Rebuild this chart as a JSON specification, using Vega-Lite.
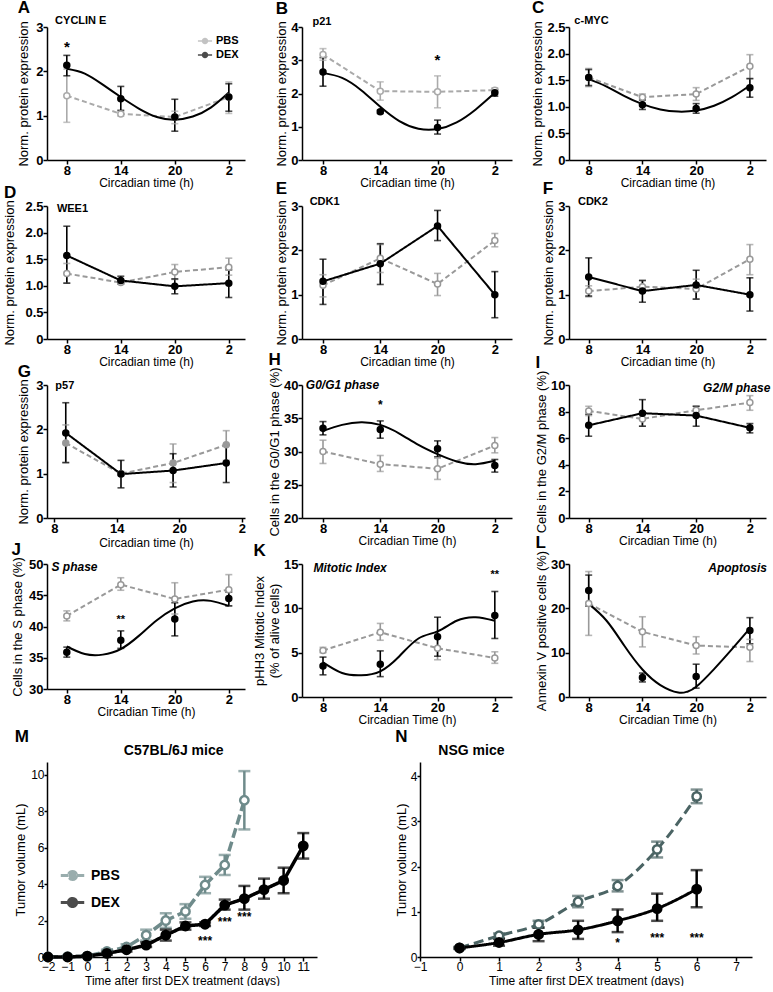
{
"$schema": "https://vega.github.io/schema/vega-lite/v6.json",
"padding": {"left": 3, "top": -2, "right": 2, "bottom": 0},
"spacing": 2,
"resolve": {"scale": {"color": "independent", "fill": "independent", "strokeDash": "independent"}},
"config": {
 "font": "Liberation Sans",
 "view": {"stroke": null},
 "axis": {"grid": false, "labelOverlap": false, "labelFlush": false, "domainColor": "#000", "domainWidth": 1.5, "tickColor": "#000", "tickWidth": 1.5, "tickSize": 4, "labelColor": "#000", "labelFontSize": 13, "labelFontWeight": "bold", "labelPadding": 0, "titleColor": "#000", "titleFontSize": 12, "titleFontWeight": "normal", "titlePadding": 0},
 "axisY": {"titleFontSize": 13, "titlePadding": 2},
 "title": {"fontSize": 17, "fontWeight": "bold", "anchor": "start", "frame": "bounds", "offset": -2, "color": "#000"}
},
"datasets": {
 "A": [
  {"g":"PBS","t":8,"y":1.45,"lo":0.85,"hi":2.05},{"g":"PBS","t":14,"y":1.04,"lo":0.99,"hi":1.09},{"g":"PBS","t":20,"y":0.97,"lo":0.82,"hi":1.1},{"g":"PBS","t":26,"y":1.42,"lo":1.05,"hi":1.76},
  {"g":"DEX","t":8,"y":2.14,"lo":1.9,"hi":2.36},{"g":"DEX","t":14,"y":1.38,"lo":1.12,"hi":1.66},{"g":"DEX","t":20,"y":0.97,"lo":0.65,"hi":1.37},{"g":"DEX","t":26,"y":1.42,"lo":1.1,"hi":1.72}],
 "Ac": [{"t":8,"y":2.06},{"t":10,"y":1.95},{"t":12,"y":1.7},{"t":14,"y":1.42},{"t":16,"y":1.16},{"t":18,"y":0.97},{"t":20,"y":0.91},{"t":22,"y":0.98},{"t":24,"y":1.18},{"t":26,"y":1.52}],
 "B": [
  {"g":"PBS","t":8,"y":3.17,"lo":3.0,"hi":3.35},{"g":"PBS","t":14,"y":2.07,"lo":1.8,"hi":2.35},{"g":"PBS","t":20,"y":2.05,"lo":1.57,"hi":2.53},{"g":"PBS","t":26,"y":2.1,"lo":2.03,"hi":2.17},
  {"g":"DEX","t":8,"y":2.65,"lo":2.22,"hi":3.08},{"g":"DEX","t":14,"y":1.45,"lo":1.4,"hi":1.5},{"g":"DEX","t":20,"y":0.98,"lo":0.78,"hi":1.2},{"g":"DEX","t":26,"y":2.02,"lo":1.92,"hi":2.12}],
 "Bc": [{"t":8,"y":2.62},{"t":10,"y":2.47},{"t":12,"y":2.1},{"t":14,"y":1.6},{"t":16,"y":1.17},{"t":18,"y":0.94},{"t":20,"y":0.93},{"t":22,"y":1.13},{"t":24,"y":1.52},{"t":26,"y":2.02}],
 "C": [
  {"g":"PBS","t":8,"y":1.55,"lo":1.38,"hi":1.72},{"g":"PBS","t":14,"y":1.18,"lo":1.13,"hi":1.24},{"g":"PBS","t":20,"y":1.24,"lo":1.12,"hi":1.36},{"g":"PBS","t":26,"y":1.76,"lo":1.53,"hi":1.98},
  {"g":"DEX","t":8,"y":1.55,"lo":1.4,"hi":1.7},{"g":"DEX","t":14,"y":1.04,"lo":0.95,"hi":1.13},{"g":"DEX","t":20,"y":0.97,"lo":0.88,"hi":1.06},{"g":"DEX","t":26,"y":1.36,"lo":1.18,"hi":1.53}],
 "Cc": [{"t":8,"y":1.52},{"t":10,"y":1.38},{"t":12,"y":1.2},{"t":14,"y":1.05},{"t":16,"y":0.95},{"t":18,"y":0.91},{"t":20,"y":0.93},{"t":22,"y":1.02},{"t":24,"y":1.18},{"t":26,"y":1.4}],
 "D": [
  {"g":"PBS","t":8,"y":1.23,"lo":1.05,"hi":1.42},{"g":"PBS","t":14,"y":1.06,"lo":1.03,"hi":1.1},{"g":"PBS","t":20,"y":1.26,"lo":1.12,"hi":1.4},{"g":"PBS","t":26,"y":1.35,"lo":1.2,"hi":1.52},
  {"g":"DEX","t":8,"y":1.57,"lo":1.05,"hi":2.12},{"g":"DEX","t":14,"y":1.1,"lo":1.04,"hi":1.18},{"g":"DEX","t":20,"y":0.99,"lo":0.85,"hi":1.13},{"g":"DEX","t":26,"y":1.05,"lo":0.78,"hi":1.3}],
 "E": [
  {"g":"PBS","t":8,"y":1.21,"lo":0.95,"hi":1.45},{"g":"PBS","t":14,"y":1.82,"lo":1.5,"hi":2.13},{"g":"PBS","t":20,"y":1.24,"lo":0.98,"hi":1.48},{"g":"PBS","t":26,"y":2.22,"lo":2.08,"hi":2.38},
  {"g":"DEX","t":8,"y":1.3,"lo":0.78,"hi":1.8},{"g":"DEX","t":14,"y":1.7,"lo":1.23,"hi":2.15},{"g":"DEX","t":20,"y":2.55,"lo":2.22,"hi":2.9},{"g":"DEX","t":26,"y":1.0,"lo":0.48,"hi":1.52}],
 "F": [
  {"g":"PBS","t":8,"y":1.08,"lo":0.95,"hi":1.2},{"g":"PBS","t":14,"y":1.18,"lo":1.05,"hi":1.32},{"g":"PBS","t":20,"y":1.13,"lo":0.9,"hi":1.35},{"g":"PBS","t":26,"y":1.8,"lo":1.45,"hi":2.13},
  {"g":"DEX","t":8,"y":1.4,"lo":0.97,"hi":1.83},{"g":"DEX","t":14,"y":1.08,"lo":0.83,"hi":1.32},{"g":"DEX","t":20,"y":1.22,"lo":0.9,"hi":1.55},{"g":"DEX","t":26,"y":1.0,"lo":0.63,"hi":1.38}],
 "G": [
  {"g":"PBS","t":9.1,"y":1.69,"lo":1.25,"hi":2.1},{"g":"PBS","t":14.4,"y":1.0,"lo":0.95,"hi":1.05},{"g":"PBS","t":19.4,"y":1.24,"lo":0.8,"hi":1.67},{"g":"PBS","t":24.5,"y":1.65,"lo":1.3,"hi":1.97},
  {"g":"DEX","t":9.1,"y":1.92,"lo":1.25,"hi":2.6},{"g":"DEX","t":14.4,"y":0.99,"lo":0.68,"hi":1.3},{"g":"DEX","t":19.4,"y":1.07,"lo":0.7,"hi":1.45},{"g":"DEX","t":24.5,"y":1.24,"lo":0.8,"hi":1.65}],
 "H": [
  {"g":"PBS","t":8,"y":30.0,"lo":28.2,"hi":31.7},{"g":"PBS","t":14,"y":28.1,"lo":27.0,"hi":29.4},{"g":"PBS","t":20,"y":27.4,"lo":25.8,"hi":29.0},{"g":"PBS","t":26,"y":30.9,"lo":29.8,"hi":32.1},
  {"g":"DEX","t":8,"y":33.5,"lo":32.5,"hi":34.5},{"g":"DEX","t":14,"y":33.3,"lo":32.0,"hi":34.6},{"g":"DEX","t":20,"y":30.4,"lo":29.2,"hi":31.6},{"g":"DEX","t":26,"y":27.9,"lo":26.9,"hi":28.8}],
 "Hc": [{"t":8,"y":33.1},{"t":10,"y":34.0},{"t":12,"y":34.4},{"t":14,"y":34.0},{"t":16,"y":32.7},{"t":18,"y":31.0},{"t":20,"y":29.6},{"t":22,"y":28.5},{"t":24,"y":28.1},{"t":26,"y":28.6}],
 "I": [
  {"g":"PBS","t":8,"y":8.05,"lo":7.7,"hi":8.4},{"g":"PBS","t":14,"y":7.45,"lo":6.9,"hi":7.9},{"g":"PBS","t":20,"y":8.1,"lo":7.8,"hi":8.4},{"g":"PBS","t":26,"y":8.68,"lo":8.1,"hi":9.2},
  {"g":"DEX","t":8,"y":6.97,"lo":6.15,"hi":7.8},{"g":"DEX","t":14,"y":7.88,"lo":6.9,"hi":8.9},{"g":"DEX","t":20,"y":7.7,"lo":6.9,"hi":8.4},{"g":"DEX","t":26,"y":6.78,"lo":6.4,"hi":7.1}],
 "J": [
  {"g":"PBS","t":8,"y":41.7,"lo":40.9,"hi":42.5},{"g":"PBS","t":14,"y":46.7,"lo":45.8,"hi":47.8},{"g":"PBS","t":20,"y":44.4,"lo":42.0,"hi":47.0},{"g":"PBS","t":26,"y":45.9,"lo":43.3,"hi":48.3},
  {"g":"DEX","t":8,"y":35.9,"lo":35.1,"hi":36.7},{"g":"DEX","t":14,"y":37.8,"lo":36.5,"hi":39.3},{"g":"DEX","t":20,"y":41.2,"lo":38.5,"hi":43.8},{"g":"DEX","t":26,"y":44.5,"lo":43.3,"hi":45.5}],
 "Jc": [{"t":8,"y":36.8},{"t":10,"y":35.6},{"t":12,"y":35.5},{"t":14,"y":36.4},{"t":16,"y":38.5},{"t":18,"y":41.0},{"t":20,"y":42.9},{"t":22,"y":44.0},{"t":24,"y":44.1},{"t":26,"y":43.3}],
 "K": [
  {"g":"PBS","t":8,"y":5.25,"lo":5.0,"hi":5.6},{"g":"PBS","t":14,"y":7.3,"lo":6.4,"hi":8.3},{"g":"PBS","t":20,"y":5.5,"lo":4.2,"hi":6.8},{"g":"PBS","t":26,"y":4.4,"lo":3.8,"hi":5.1},
  {"g":"DEX","t":8,"y":3.5,"lo":2.5,"hi":4.5},{"g":"DEX","t":14,"y":3.7,"lo":2.3,"hi":5.2},{"g":"DEX","t":20,"y":6.8,"lo":4.6,"hi":9.0},{"g":"DEX","t":26,"y":9.2,"lo":6.6,"hi":11.9}],
 "Kc": [{"t":8,"y":3.9},{"t":10,"y":2.7},{"t":12,"y":2.45},{"t":14,"y":2.9},{"t":16,"y":4.6},{"t":18,"y":6.6},{"t":20,"y":7.4},{"t":22,"y":8.6},{"t":24,"y":9.0},{"t":26,"y":8.6}],
 "L": [
  {"g":"PBS","t":8,"y":21.1,"lo":13.9,"hi":28.3},{"g":"PBS","t":14,"y":14.7,"lo":11.3,"hi":18.1},{"g":"PBS","t":20,"y":11.6,"lo":9.7,"hi":13.6},{"g":"PBS","t":26,"y":11.2,"lo":8.0,"hi":13.0},
  {"g":"DEX","t":8,"y":24.0,"lo":20.5,"hi":27.5},{"g":"DEX","t":14,"y":4.4,"lo":3.4,"hi":5.4},{"g":"DEX","t":20,"y":4.6,"lo":2.0,"hi":7.4},{"g":"DEX","t":26,"y":15.0,"lo":12.0,"hi":17.9}],
 "Lc": [{"t":8,"y":21.0},{"t":10,"y":17.2},{"t":12,"y":11.5},{"t":14,"y":6.2},{"t":16,"y":2.7},{"t":18,"y":1.0},{"t":19,"y":1.2},{"t":20,"y":2.3},{"t":22,"y":6.3},{"t":24,"y":10.8},{"t":26,"y":15.5}],
 "M": [
  {"g":"PBS","t":-2,"y":0.0,"lo":0.0,"hi":0.0},{"g":"PBS","t":-1,"y":0.02,"lo":0.0,"hi":0.05},{"g":"PBS","t":0,"y":0.05,"lo":0.02,"hi":0.08},{"g":"PBS","t":1,"y":0.3,"lo":0.2,"hi":0.4},{"g":"PBS","t":2,"y":0.55,"lo":0.4,"hi":0.7},{"g":"PBS","t":3,"y":1.2,"lo":0.9,"hi":1.5},{"g":"PBS","t":4,"y":2.0,"lo":1.6,"hi":2.4},{"g":"PBS","t":5,"y":2.5,"lo":2.1,"hi":2.9},{"g":"PBS","t":6,"y":3.95,"lo":3.5,"hi":4.4},{"g":"PBS","t":7,"y":5.05,"lo":4.5,"hi":5.6},{"g":"PBS","t":8,"y":8.6,"lo":7.0,"hi":10.2},
  {"g":"DEX","t":-2,"y":0.0,"lo":0.0,"hi":0.0},{"g":"DEX","t":-1,"y":0.0,"lo":0.0,"hi":0.03},{"g":"DEX","t":0,"y":0.05,"lo":0.02,"hi":0.08},{"g":"DEX","t":1,"y":0.2,"lo":0.12,"hi":0.28},{"g":"DEX","t":2,"y":0.4,"lo":0.3,"hi":0.5},{"g":"DEX","t":3,"y":0.65,"lo":0.55,"hi":0.8},{"g":"DEX","t":4,"y":1.2,"lo":0.9,"hi":1.5},{"g":"DEX","t":5,"y":1.7,"lo":1.5,"hi":1.9},{"g":"DEX","t":6,"y":1.8,"lo":1.7,"hi":1.9},{"g":"DEX","t":7,"y":2.85,"lo":2.6,"hi":3.15},{"g":"DEX","t":8,"y":3.2,"lo":2.6,"hi":3.9},{"g":"DEX","t":9,"y":3.7,"lo":3.2,"hi":4.3},{"g":"DEX","t":10,"y":4.2,"lo":3.5,"hi":4.9},{"g":"DEX","t":11,"y":6.1,"lo":5.4,"hi":6.8}],
 "N": [
  {"g":"PBS","t":0,"y":0.2,"lo":0.18,"hi":0.22},{"g":"PBS","t":1,"y":0.47,"lo":0.42,"hi":0.52},{"g":"PBS","t":2,"y":0.72,"lo":0.65,"hi":0.8},{"g":"PBS","t":3,"y":1.22,"lo":1.1,"hi":1.35},{"g":"PBS","t":4,"y":1.57,"lo":1.45,"hi":1.7},{"g":"PBS","t":5,"y":2.38,"lo":2.2,"hi":2.55},{"g":"PBS","t":6,"y":3.55,"lo":3.4,"hi":3.7},
  {"g":"DEX","t":0,"y":0.2,"lo":0.18,"hi":0.22},{"g":"DEX","t":1,"y":0.32,"lo":0.25,"hi":0.4},{"g":"DEX","t":2,"y":0.5,"lo":0.35,"hi":0.65},{"g":"DEX","t":3,"y":0.6,"lo":0.4,"hi":0.8},{"g":"DEX","t":4,"y":0.8,"lo":0.55,"hi":1.05},{"g":"DEX","t":5,"y":1.07,"lo":0.8,"hi":1.4},{"g":"DEX","t":6,"y":1.5,"lo":1.1,"hi":1.92}]
},
"vconcat": [
{
"columns": 3,
"bounds": "flush",
"spacing": {"row": 46, "column": 57},
"resolve": {"scale": {"color": "independent", "fill": "independent", "strokeDash": "independent"}},
"concat": [
{
 "title": {"text": "A"}, "width": 198, "height": 133,
 "encoding": {"x": {"field":"t","type":"quantitative","scale":{"domain":[5.8,27.8],"nice":false,"zero":false},"axis":{"values":[8,14,20,26],"labelExpr":"datum.value==26?'2':datum.label","title":"Circadian time (h)"}}},
 "layer": [
  {"data":{"name":"A"},"mark":{"type":"rule","strokeWidth":1.6},"encoding":{"y":{"field":"lo","type":"quantitative","scale":{"domain":[0,3],"nice":false},"axis":{"values":[0,1,2,3],"labelOverlap":false,"titlePadding":5,"title":"Norm. protein expression"}},"y2":{"field":"hi"},"color":{"field":"g","type":"nominal","scale":{"domain":["PBS","DEX"],"range":["#aaaaaa","#000000"]}}}},
  {"data":{"name":"A"},"mark":{"type":"tick","orient":"horizontal","size":7,"thickness":1.6},"encoding":{"y":{"field":"lo","type":"quantitative","scale":{"domain":[0,3],"nice":false},"axis":{"values":[0,1,2,3],"labelOverlap":false,"titlePadding":5,"title":"Norm. protein expression"}},"color":{"field":"g","type":"nominal"}}},
  {"data":{"name":"A"},"mark":{"type":"tick","orient":"horizontal","size":7,"thickness":1.6},"encoding":{"y":{"field":"hi","type":"quantitative","scale":{"domain":[0,3],"nice":false},"axis":{"values":[0,1,2,3],"labelOverlap":false,"titlePadding":5,"title":"Norm. protein expression"}},"color":{"field":"g","type":"nominal"}}},
  {"data":{"name":"A"},"transform":[{"filter":"datum.g=='PBS'"}],"mark":{"type":"line","strokeWidth":2,"strokeDash":[5,3]},"encoding":{"y":{"field":"y","type":"quantitative","scale":{"domain":[0,3],"nice":false},"axis":{"values":[0,1,2,3],"labelOverlap":false,"titlePadding":5,"title":"Norm. protein expression"}},"color":{"field":"g","type":"nominal"}}},
  {"data":{"name":"Ac"},"mark":{"type":"line","interpolate":"natural","strokeWidth":2,"color":"#000"},"encoding":{"y":{"field":"y","type":"quantitative","scale":{"domain":[0,3],"nice":false},"axis":{"values":[0,1,2,3],"labelOverlap":false,"titlePadding":5,"title":"Norm. protein expression"}}}},
  {"data":{"name":"A"},"mark":{"type":"point","filled":false,"size":36,"strokeWidth":1.5,"opacity":1},"encoding":{"y":{"field":"y","type":"quantitative","scale":{"domain":[0,3],"nice":false},"axis":{"values":[0,1,2,3],"labelOverlap":false,"titlePadding":5,"title":"Norm. protein expression"}},
    "color":{"field":"g","type":"nominal","legend":{"orient":"top-right","title":null,"offset":6,"labelFontSize":11,"labelFontWeight":"bold","labelColor":"#000","symbolType":"M-1,0H-0.35M0.35,0H1M0.35,0A0.35,0.35,0,1,1,-0.35,0A0.35,0.35,0,1,1,0.35,0","symbolSize":200,"symbolStrokeWidth":1.5,"rowPadding":0,"labelOffset":3}},
    "fill":{"field":"g","type":"nominal","scale":{"domain":["PBS","DEX"],"range":["#ffffff","#000000"]},"legend":{"orient":"top-right","title":null,"offset":6,"labelFontSize":11,"labelFontWeight":"bold","labelColor":"#000","symbolType":"M-1,0H-0.35M0.35,0H1M0.35,0A0.35,0.35,0,1,1,-0.35,0A0.35,0.35,0,1,1,0.35,0","symbolSize":200,"symbolStrokeWidth":1.5,"rowPadding":0,"labelOffset":3}}}},
  {"data":{"name":"A"},"transform":[{"filter":"datum.g=='DEX' && datum.t==8"}],"mark":{"type":"text","text":"CYCLIN E","fontWeight":"bold","fontSize":11,"align":"left","baseline":"middle","color":"#000"},"encoding":{"x":{"datum":6.7},"y":{"datum":3.13,"type":"quantitative","scale":{"domain":[0,3],"nice":false},"axis":{"values":[0,1,2,3],"labelOverlap":false,"titlePadding":5,"title":"Norm. protein expression"}}}},
  {"data":{"name":"A"},"transform":[{"filter":"datum.g=='DEX' && datum.t==8"}],"mark":{"type":"text","text":"*","fontWeight":"bold","fontSize":15,"align":"center","baseline":"middle","color":"#000"},"encoding":{"x":{"datum":8},"y":{"datum":2.55,"type":"quantitative","scale":{"domain":[0,3],"nice":false},"axis":{"values":[0,1,2,3],"labelOverlap":false,"titlePadding":5,"title":"Norm. protein expression"}}}}
 ]
},
{
 "title": {"text": "B"}, "width": 210, "height": 133,
 "encoding": {"x": {"field":"t","type":"quantitative","scale":{"domain":[5.8,27.8],"nice":false,"zero":false},"axis":{"values":[8,14,20,26],"labelExpr":"datum.value==26?'2':datum.label","title":"Circadian time (h)"}}},
 "layer": [
  {"data":{"name":"B"},"mark":{"type":"rule","strokeWidth":1.6},"encoding":{"y":{"field":"lo","type":"quantitative","scale":{"domain":[0,4],"nice":false},"axis":{"values":[0,1,2,3,4],"labelOverlap":false,"title":"Norm. protein expression"}},"y2":{"field":"hi"},"color":{"field":"g","type":"nominal","scale":{"domain":["PBS","DEX"],"range":["#aaaaaa","#000000"]},"legend":null}}},
  {"data":{"name":"B"},"mark":{"type":"tick","orient":"horizontal","size":7,"thickness":1.6},"encoding":{"y":{"field":"lo","type":"quantitative","scale":{"domain":[0,4],"nice":false},"axis":{"values":[0,1,2,3,4],"labelOverlap":false,"title":"Norm. protein expression"}},"color":{"field":"g","type":"nominal","legend":null}}},
  {"data":{"name":"B"},"mark":{"type":"tick","orient":"horizontal","size":7,"thickness":1.6},"encoding":{"y":{"field":"hi","type":"quantitative","scale":{"domain":[0,4],"nice":false},"axis":{"values":[0,1,2,3,4],"labelOverlap":false,"title":"Norm. protein expression"}},"color":{"field":"g","type":"nominal","legend":null}}},
  {"data":{"name":"B"},"transform":[{"filter":"datum.g=='PBS'"}],"mark":{"type":"line","strokeWidth":2,"strokeDash":[5,3]},"encoding":{"y":{"field":"y","type":"quantitative","scale":{"domain":[0,4],"nice":false},"axis":{"values":[0,1,2,3,4],"labelOverlap":false,"title":"Norm. protein expression"}},"color":{"field":"g","type":"nominal","legend":null}}},
  {"data":{"name":"Bc"},"mark":{"type":"line","interpolate":"natural","strokeWidth":2,"color":"#000"},"encoding":{"y":{"field":"y","type":"quantitative","scale":{"domain":[0,4],"nice":false},"axis":{"values":[0,1,2,3,4],"labelOverlap":false,"title":"Norm. protein expression"}}}},
  {"data":{"name":"B"},"mark":{"type":"point","filled":false,"size":36,"strokeWidth":1.5,"opacity":1},"encoding":{"y":{"field":"y","type":"quantitative","scale":{"domain":[0,4],"nice":false},"axis":{"values":[0,1,2,3,4],"labelOverlap":false,"title":"Norm. protein expression"}},"color":{"field":"g","type":"nominal","legend":null},"fill":{"field":"g","type":"nominal","scale":{"domain":["PBS","DEX"],"range":["#ffffff","#000000"]},"legend":null}}},
  {"data":{"name":"B"},"transform":[{"filter":"datum.g=='DEX' && datum.t==8"}],"mark":{"type":"text","text":"p21","fontWeight":"bold","fontSize":11,"align":"left","baseline":"middle","color":"#000"},"encoding":{"x":{"datum":6.9},"y":{"datum":4.15,"type":"quantitative","scale":{"domain":[0,4],"nice":false},"axis":{"values":[0,1,2,3,4],"labelOverlap":false,"title":"Norm. protein expression"}}}},
  {"data":{"name":"B"},"transform":[{"filter":"datum.g=='DEX' && datum.t==8"}],"mark":{"type":"text","text":"*","fontWeight":"bold","fontSize":15,"align":"center","baseline":"middle","color":"#000"},"encoding":{"x":{"datum":20},"y":{"datum":3.0,"type":"quantitative","scale":{"domain":[0,4],"nice":false},"axis":{"values":[0,1,2,3,4],"labelOverlap":false,"title":"Norm. protein expression"}}}}
 ]
},
{
 "title": {"text": "C"}, "width": 197, "height": 133,
 "encoding": {"x": {"field":"t","type":"quantitative","scale":{"domain":[5.8,27.8],"nice":false,"zero":false},"axis":{"values":[8,14,20,26],"labelExpr":"datum.value==26?'2':datum.label","title":"Circadian time (h)"}}},
 "layer": [
  {"data":{"name":"C"},"mark":{"type":"rule","strokeWidth":1.6},"encoding":{"y":{"field":"lo","type":"quantitative","scale":{"domain":[0,2.5],"nice":false},"axis":{"values":[0,0.5,1,1.5,2,2.5],"labelOverlap":false,"labelExpr":"datum.value==0?'0':format(datum.value,'.1f')","title":"Norm. protein expression"}},"y2":{"field":"hi"},"color":{"field":"g","type":"nominal","scale":{"domain":["PBS","DEX"],"range":["#999999","#000000"]},"legend":null}}},
  {"data":{"name":"C"},"mark":{"type":"tick","orient":"horizontal","size":7,"thickness":1.6},"encoding":{"y":{"field":"lo","type":"quantitative","scale":{"domain":[0,2.5],"nice":false},"axis":{"values":[0,0.5,1,1.5,2,2.5],"labelOverlap":false,"labelExpr":"datum.value==0?'0':format(datum.value,'.1f')","title":"Norm. protein expression"}},"color":{"field":"g","type":"nominal","legend":null}}},
  {"data":{"name":"C"},"mark":{"type":"tick","orient":"horizontal","size":7,"thickness":1.6},"encoding":{"y":{"field":"hi","type":"quantitative","scale":{"domain":[0,2.5],"nice":false},"axis":{"values":[0,0.5,1,1.5,2,2.5],"labelOverlap":false,"labelExpr":"datum.value==0?'0':format(datum.value,'.1f')","title":"Norm. protein expression"}},"color":{"field":"g","type":"nominal","legend":null}}},
  {"data":{"name":"C"},"transform":[{"filter":"datum.g=='PBS'"}],"mark":{"type":"line","strokeWidth":2,"strokeDash":[5,3]},"encoding":{"y":{"field":"y","type":"quantitative","scale":{"domain":[0,2.5],"nice":false},"axis":{"values":[0,0.5,1,1.5,2,2.5],"labelOverlap":false,"labelExpr":"datum.value==0?'0':format(datum.value,'.1f')","title":"Norm. protein expression"}},"color":{"field":"g","type":"nominal","legend":null}}},
  {"data":{"name":"Cc"},"mark":{"type":"line","interpolate":"natural","strokeWidth":2,"color":"#000"},"encoding":{"y":{"field":"y","type":"quantitative","scale":{"domain":[0,2.5],"nice":false},"axis":{"values":[0,0.5,1,1.5,2,2.5],"labelOverlap":false,"labelExpr":"datum.value==0?'0':format(datum.value,'.1f')","title":"Norm. protein expression"}}}},
  {"data":{"name":"C"},"mark":{"type":"point","filled":false,"size":36,"strokeWidth":1.5,"opacity":1},"encoding":{"y":{"field":"y","type":"quantitative","scale":{"domain":[0,2.5],"nice":false},"axis":{"values":[0,0.5,1,1.5,2,2.5],"labelOverlap":false,"labelExpr":"datum.value==0?'0':format(datum.value,'.1f')","title":"Norm. protein expression"}},"color":{"field":"g","type":"nominal","legend":null},"fill":{"field":"g","type":"nominal","scale":{"domain":["PBS","DEX"],"range":["#ffffff","#000000"]},"legend":null}}},
  {"data":{"name":"C"},"transform":[{"filter":"datum.g=='DEX' && datum.t==8"}],"mark":{"type":"text","text":"c-MYC","fontWeight":"bold","fontSize":11,"align":"left","baseline":"middle","color":"#000"},"encoding":{"x":{"datum":6.4},"y":{"datum":2.62,"type":"quantitative","scale":{"domain":[0,2.5],"nice":false},"axis":{"values":[0,0.5,1,1.5,2,2.5],"labelOverlap":false,"labelExpr":"datum.value==0?'0':format(datum.value,'.1f')","title":"Norm. protein expression"}}}}
 ]
},
{
 "title": {"text": "D"}, "width": 198, "height": 133,
 "encoding": {"x": {"field":"t","type":"quantitative","scale":{"domain":[5.8,27.8],"nice":false,"zero":false},"axis":{"values":[8,14,20,26],"labelExpr":"datum.value==26?'2':datum.label","title":"Circadian time (h)"}}},
 "layer": [
  {"data":{"name":"D"},"mark":{"type":"rule","strokeWidth":1.6},"encoding":{"y":{"field":"lo","type":"quantitative","scale":{"domain":[0,2.5],"nice":false},"axis":{"values":[0,0.5,1,1.5,2,2.5],"labelOverlap":false,"titlePadding":8,"labelExpr":"datum.value==0?'0':format(datum.value,'.1f')","title":"Norm. protein expression"}},"y2":{"field":"hi"},"color":{"field":"g","type":"nominal","scale":{"domain":["PBS","DEX"],"range":["#999999","#000000"]},"legend":null}}},
  {"data":{"name":"D"},"mark":{"type":"tick","orient":"horizontal","size":7,"thickness":1.6},"encoding":{"y":{"field":"lo","type":"quantitative","scale":{"domain":[0,2.5],"nice":false},"axis":{"values":[0,0.5,1,1.5,2,2.5],"labelOverlap":false,"titlePadding":8,"labelExpr":"datum.value==0?'0':format(datum.value,'.1f')","title":"Norm. protein expression"}},"color":{"field":"g","type":"nominal","legend":null}}},
  {"data":{"name":"D"},"mark":{"type":"tick","orient":"horizontal","size":7,"thickness":1.6},"encoding":{"y":{"field":"hi","type":"quantitative","scale":{"domain":[0,2.5],"nice":false},"axis":{"values":[0,0.5,1,1.5,2,2.5],"labelOverlap":false,"titlePadding":8,"labelExpr":"datum.value==0?'0':format(datum.value,'.1f')","title":"Norm. protein expression"}},"color":{"field":"g","type":"nominal","legend":null}}},
  {"data":{"name":"D"},"mark":{"type":"line","strokeWidth":2},"encoding":{"y":{"field":"y","type":"quantitative","scale":{"domain":[0,2.5],"nice":false},"axis":{"values":[0,0.5,1,1.5,2,2.5],"labelOverlap":false,"titlePadding":8,"labelExpr":"datum.value==0?'0':format(datum.value,'.1f')","title":"Norm. protein expression"}},"color":{"field":"g","type":"nominal","legend":null},"strokeDash":{"field":"g","type":"nominal","scale":{"domain":["PBS","DEX"],"range":[[5,3],[1,0]]},"legend":null}}},
  {"data":{"name":"D"},"mark":{"type":"point","filled":false,"size":36,"strokeWidth":1.5,"opacity":1},"encoding":{"y":{"field":"y","type":"quantitative","scale":{"domain":[0,2.5],"nice":false},"axis":{"values":[0,0.5,1,1.5,2,2.5],"labelOverlap":false,"titlePadding":8,"labelExpr":"datum.value==0?'0':format(datum.value,'.1f')","title":"Norm. protein expression"}},"color":{"field":"g","type":"nominal","legend":null},"fill":{"field":"g","type":"nominal","scale":{"domain":["PBS","DEX"],"range":["#ffffff","#000000"]},"legend":null}}},
  {"data":{"name":"D"},"transform":[{"filter":"datum.g=='DEX' && datum.t==8"}],"mark":{"type":"text","text":"WEE1","fontWeight":"bold","fontSize":11,"align":"left","baseline":"middle","color":"#000"},"encoding":{"x":{"datum":6.9},"y":{"datum":2.44,"type":"quantitative","scale":{"domain":[0,2.5],"nice":false},"axis":{"values":[0,0.5,1,1.5,2,2.5],"labelOverlap":false,"titlePadding":8,"labelExpr":"datum.value==0?'0':format(datum.value,'.1f')","title":"Norm. protein expression"}}}}
 ]
},
{
 "title": {"text": "E"}, "width": 210, "height": 133,
 "encoding": {"x": {"field":"t","type":"quantitative","scale":{"domain":[5.8,27.8],"nice":false,"zero":false},"axis":{"values":[8,14,20,26],"labelExpr":"datum.value==26?'2':datum.label","title":"Circadian time (h)"}}},
 "layer": [
  {"data":{"name":"E"},"mark":{"type":"rule","strokeWidth":1.6},"encoding":{"y":{"field":"lo","type":"quantitative","scale":{"domain":[0,3],"nice":false},"axis":{"values":[0,1,2,3],"labelOverlap":false,"title":"Norm. protein expression"}},"y2":{"field":"hi"},"color":{"field":"g","type":"nominal","scale":{"domain":["PBS","DEX"],"range":["#999999","#000000"]},"legend":null}}},
  {"data":{"name":"E"},"mark":{"type":"tick","orient":"horizontal","size":7,"thickness":1.6},"encoding":{"y":{"field":"lo","type":"quantitative","scale":{"domain":[0,3],"nice":false},"axis":{"values":[0,1,2,3],"labelOverlap":false,"title":"Norm. protein expression"}},"color":{"field":"g","type":"nominal","legend":null}}},
  {"data":{"name":"E"},"mark":{"type":"tick","orient":"horizontal","size":7,"thickness":1.6},"encoding":{"y":{"field":"hi","type":"quantitative","scale":{"domain":[0,3],"nice":false},"axis":{"values":[0,1,2,3],"labelOverlap":false,"title":"Norm. protein expression"}},"color":{"field":"g","type":"nominal","legend":null}}},
  {"data":{"name":"E"},"mark":{"type":"line","strokeWidth":2},"encoding":{"y":{"field":"y","type":"quantitative","scale":{"domain":[0,3],"nice":false},"axis":{"values":[0,1,2,3],"labelOverlap":false,"title":"Norm. protein expression"}},"color":{"field":"g","type":"nominal","legend":null},"strokeDash":{"field":"g","type":"nominal","scale":{"domain":["PBS","DEX"],"range":[[5,3],[1,0]]},"legend":null}}},
  {"data":{"name":"E"},"mark":{"type":"point","filled":false,"size":36,"strokeWidth":1.5,"opacity":1},"encoding":{"y":{"field":"y","type":"quantitative","scale":{"domain":[0,3],"nice":false},"axis":{"values":[0,1,2,3],"labelOverlap":false,"title":"Norm. protein expression"}},"color":{"field":"g","type":"nominal","legend":null},"fill":{"field":"g","type":"nominal","scale":{"domain":["PBS","DEX"],"range":["#ffffff","#000000"]},"legend":null}}},
  {"data":{"name":"E"},"transform":[{"filter":"datum.g=='DEX' && datum.t==8"}],"mark":{"type":"text","text":"CDK1","fontWeight":"bold","fontSize":11,"align":"left","baseline":"middle","color":"#000"},"encoding":{"x":{"datum":6.6},"y":{"datum":3.1,"type":"quantitative","scale":{"domain":[0,3],"nice":false},"axis":{"values":[0,1,2,3],"labelOverlap":false,"title":"Norm. protein expression"}}}}
 ]
},
{
 "title": {"text": "F"}, "width": 197, "height": 133,
 "encoding": {"x": {"field":"t","type":"quantitative","scale":{"domain":[5.8,27.8],"nice":false,"zero":false},"axis":{"values":[8,14,20,26],"labelExpr":"datum.value==26?'2':datum.label","title":"Circadian time (h)"}}},
 "layer": [
  {"data":{"name":"F"},"mark":{"type":"rule","strokeWidth":1.6},"encoding":{"y":{"field":"lo","type":"quantitative","scale":{"domain":[0,3],"nice":false},"axis":{"values":[0,1,2,3],"labelOverlap":false,"title":"Norm. protein expression"}},"y2":{"field":"hi"},"color":{"field":"g","type":"nominal","scale":{"domain":["PBS","DEX"],"range":["#999999","#000000"]},"legend":null}}},
  {"data":{"name":"F"},"mark":{"type":"tick","orient":"horizontal","size":7,"thickness":1.6},"encoding":{"y":{"field":"lo","type":"quantitative","scale":{"domain":[0,3],"nice":false},"axis":{"values":[0,1,2,3],"labelOverlap":false,"title":"Norm. protein expression"}},"color":{"field":"g","type":"nominal","legend":null}}},
  {"data":{"name":"F"},"mark":{"type":"tick","orient":"horizontal","size":7,"thickness":1.6},"encoding":{"y":{"field":"hi","type":"quantitative","scale":{"domain":[0,3],"nice":false},"axis":{"values":[0,1,2,3],"labelOverlap":false,"title":"Norm. protein expression"}},"color":{"field":"g","type":"nominal","legend":null}}},
  {"data":{"name":"F"},"mark":{"type":"line","strokeWidth":2},"encoding":{"y":{"field":"y","type":"quantitative","scale":{"domain":[0,3],"nice":false},"axis":{"values":[0,1,2,3],"labelOverlap":false,"title":"Norm. protein expression"}},"color":{"field":"g","type":"nominal","legend":null},"strokeDash":{"field":"g","type":"nominal","scale":{"domain":["PBS","DEX"],"range":[[5,3],[1,0]]},"legend":null}}},
  {"data":{"name":"F"},"mark":{"type":"point","filled":false,"size":36,"strokeWidth":1.5,"opacity":1},"encoding":{"y":{"field":"y","type":"quantitative","scale":{"domain":[0,3],"nice":false},"axis":{"values":[0,1,2,3],"labelOverlap":false,"title":"Norm. protein expression"}},"color":{"field":"g","type":"nominal","legend":null},"fill":{"field":"g","type":"nominal","scale":{"domain":["PBS","DEX"],"range":["#ffffff","#000000"]},"legend":null}}},
  {"data":{"name":"F"},"transform":[{"filter":"datum.g=='DEX' && datum.t==8"}],"mark":{"type":"text","text":"CDK2","fontWeight":"bold","fontSize":11,"align":"left","baseline":"middle","color":"#000"},"encoding":{"x":{"datum":6.8},"y":{"datum":3.1,"type":"quantitative","scale":{"domain":[0,3],"nice":false},"axis":{"values":[0,1,2,3],"labelOverlap":false,"title":"Norm. protein expression"}}}}
 ]
},
{
 "title": {"text": "G"}, "width": 198, "height": 133,
 "encoding": {"x": {"field":"t","type":"quantitative","scale":{"domain":[7.3,26.3],"nice":false,"zero":false},"axis":{"values":[8,14,20,26],"labelExpr":"datum.value==26?'2':datum.label","titlePadding":2,"title":"Circadian time (h)"}}},
 "layer": [
  {"data":{"name":"G"},"mark":{"type":"rule","strokeWidth":1.6},"encoding":{"y":{"field":"lo","type":"quantitative","scale":{"domain":[0,3],"nice":false},"axis":{"values":[0,1,2,3],"labelOverlap":false,"titlePadding":5,"title":"Norm. protein expression"}},"y2":{"field":"hi"},"color":{"field":"g","type":"nominal","scale":{"domain":["PBS","DEX"],"range":["#999999","#000000"]},"legend":null}}},
  {"data":{"name":"G"},"mark":{"type":"tick","orient":"horizontal","size":7,"thickness":1.6},"encoding":{"y":{"field":"lo","type":"quantitative","scale":{"domain":[0,3],"nice":false},"axis":{"values":[0,1,2,3],"labelOverlap":false,"titlePadding":5,"title":"Norm. protein expression"}},"color":{"field":"g","type":"nominal","legend":null}}},
  {"data":{"name":"G"},"mark":{"type":"tick","orient":"horizontal","size":7,"thickness":1.6},"encoding":{"y":{"field":"hi","type":"quantitative","scale":{"domain":[0,3],"nice":false},"axis":{"values":[0,1,2,3],"labelOverlap":false,"titlePadding":5,"title":"Norm. protein expression"}},"color":{"field":"g","type":"nominal","legend":null}}},
  {"data":{"name":"G"},"mark":{"type":"line","strokeWidth":2},"encoding":{"y":{"field":"y","type":"quantitative","scale":{"domain":[0,3],"nice":false},"axis":{"values":[0,1,2,3],"labelOverlap":false,"titlePadding":5,"title":"Norm. protein expression"}},"color":{"field":"g","type":"nominal","legend":null},"strokeDash":{"field":"g","type":"nominal","scale":{"domain":["PBS","DEX"],"range":[[5,3],[1,0]]},"legend":null}}},
  {"data":{"name":"G"},"mark":{"type":"point","filled":false,"size":36,"strokeWidth":1.5,"opacity":1},"encoding":{"y":{"field":"y","type":"quantitative","scale":{"domain":[0,3],"nice":false},"axis":{"values":[0,1,2,3],"labelOverlap":false,"titlePadding":5,"title":"Norm. protein expression"}},"color":{"field":"g","type":"nominal","legend":null},"fill":{"field":"g","type":"nominal","scale":{"domain":["PBS","DEX"],"range":["#999999","#000000"]},"legend":null}}},
  {"data":{"name":"G"},"transform":[{"filter":"datum.g=='DEX' && datum.t==9.1"}],"mark":{"type":"text","text":"p57","fontWeight":"bold","fontSize":11,"align":"left","baseline":"middle","color":"#000"},"encoding":{"x":{"datum":8.1},"y":{"datum":2.98,"type":"quantitative","scale":{"domain":[0,3],"nice":false},"axis":{"values":[0,1,2,3],"labelOverlap":false,"titlePadding":5,"title":"Norm. protein expression"}}}}
 ]
},
{
 "title": {"text": "H"}, "width": 210, "height": 133,
 "encoding": {"x": {"field":"t","type":"quantitative","scale":{"domain":[5.8,27.8],"nice":false,"zero":false},"axis":{"values":[8,14,20,26],"labelExpr":"datum.value==26?'2':datum.label","title":"Circadian Time (h)"}}},
 "layer": [
  {"data":{"name":"H"},"mark":{"type":"rule","strokeWidth":1.6},"encoding":{"y":{"field":"lo","type":"quantitative","scale":{"domain":[20,40],"nice":false,"zero":false},"axis":{"values":[20,25,30,35,40],"labelOverlap":false,"title":"Cells in the G0/G1 phase (%)"}},"y2":{"field":"hi"},"color":{"field":"g","type":"nominal","scale":{"domain":["PBS","DEX"],"range":["#999999","#000000"]},"legend":null}}},
  {"data":{"name":"H"},"mark":{"type":"tick","orient":"horizontal","size":7,"thickness":1.6},"encoding":{"y":{"field":"lo","type":"quantitative","scale":{"domain":[20,40],"nice":false,"zero":false},"axis":{"values":[20,25,30,35,40],"labelOverlap":false,"title":"Cells in the G0/G1 phase (%)"}},"color":{"field":"g","type":"nominal","legend":null}}},
  {"data":{"name":"H"},"mark":{"type":"tick","orient":"horizontal","size":7,"thickness":1.6},"encoding":{"y":{"field":"hi","type":"quantitative","scale":{"domain":[20,40],"nice":false,"zero":false},"axis":{"values":[20,25,30,35,40],"labelOverlap":false,"title":"Cells in the G0/G1 phase (%)"}},"color":{"field":"g","type":"nominal","legend":null}}},
  {"data":{"name":"H"},"transform":[{"filter":"datum.g=='PBS'"}],"mark":{"type":"line","strokeWidth":2,"strokeDash":[5,3]},"encoding":{"y":{"field":"y","type":"quantitative","scale":{"domain":[20,40],"nice":false,"zero":false},"axis":{"values":[20,25,30,35,40],"labelOverlap":false,"title":"Cells in the G0/G1 phase (%)"}},"color":{"field":"g","type":"nominal","legend":null}}},
  {"data":{"name":"Hc"},"mark":{"type":"line","interpolate":"natural","strokeWidth":2,"color":"#000"},"encoding":{"y":{"field":"y","type":"quantitative","scale":{"domain":[20,40],"nice":false,"zero":false},"axis":{"values":[20,25,30,35,40],"labelOverlap":false,"title":"Cells in the G0/G1 phase (%)"}}}},
  {"data":{"name":"H"},"mark":{"type":"point","filled":false,"size":36,"strokeWidth":1.5,"opacity":1},"encoding":{"y":{"field":"y","type":"quantitative","scale":{"domain":[20,40],"nice":false,"zero":false},"axis":{"values":[20,25,30,35,40],"labelOverlap":false,"title":"Cells in the G0/G1 phase (%)"}},"color":{"field":"g","type":"nominal","legend":null},"fill":{"field":"g","type":"nominal","scale":{"domain":["PBS","DEX"],"range":["#ffffff","#000000"]},"legend":null}}},
  {"data":{"name":"H"},"transform":[{"filter":"datum.g=='DEX' && datum.t==8"}],"mark":{"type":"text","text":"G0/G1 phase","fontWeight":"bold","fontStyle":"italic","fontSize":12,"align":"left","baseline":"middle","color":"#000"},"encoding":{"x":{"datum":6.2},"y":{"datum":40.0,"type":"quantitative","scale":{"domain":[20,40],"nice":false,"zero":false},"axis":{"values":[20,25,30,35,40],"labelOverlap":false,"title":"Cells in the G0/G1 phase (%)"}}}},
  {"data":{"name":"H"},"transform":[{"filter":"datum.g=='DEX' && datum.t==8"}],"mark":{"type":"text","text":"*","fontWeight":"bold","fontSize":12,"align":"center","baseline":"middle","color":"#000"},"encoding":{"x":{"datum":14},"y":{"datum":37.0,"type":"quantitative","scale":{"domain":[20,40],"nice":false,"zero":false},"axis":{"values":[20,25,30,35,40],"labelOverlap":false,"title":"Cells in the G0/G1 phase (%)"}}}}
 ]
},
{
 "title": {"text": "I"}, "width": 197, "height": 133,
 "encoding": {"x": {"field":"t","type":"quantitative","scale":{"domain":[5.8,27.8],"nice":false,"zero":false},"axis":{"values":[8,14,20,26],"labelExpr":"datum.value==26?'2':datum.label","title":"Circadian Time (h)"}}},
 "layer": [
  {"data":{"name":"I"},"mark":{"type":"rule","strokeWidth":1.6},"encoding":{"y":{"field":"lo","type":"quantitative","scale":{"domain":[0,10],"nice":false},"axis":{"values":[0,2,4,6,8,10],"labelOverlap":false,"title":"Cells in the G2/M phase (%)"}},"y2":{"field":"hi"},"color":{"field":"g","type":"nominal","scale":{"domain":["PBS","DEX"],"range":["#999999","#000000"]},"legend":null}}},
  {"data":{"name":"I"},"mark":{"type":"tick","orient":"horizontal","size":7,"thickness":1.6},"encoding":{"y":{"field":"lo","type":"quantitative","scale":{"domain":[0,10],"nice":false},"axis":{"values":[0,2,4,6,8,10],"labelOverlap":false,"title":"Cells in the G2/M phase (%)"}},"color":{"field":"g","type":"nominal","legend":null}}},
  {"data":{"name":"I"},"mark":{"type":"tick","orient":"horizontal","size":7,"thickness":1.6},"encoding":{"y":{"field":"hi","type":"quantitative","scale":{"domain":[0,10],"nice":false},"axis":{"values":[0,2,4,6,8,10],"labelOverlap":false,"title":"Cells in the G2/M phase (%)"}},"color":{"field":"g","type":"nominal","legend":null}}},
  {"data":{"name":"I"},"mark":{"type":"line","strokeWidth":2},"encoding":{"y":{"field":"y","type":"quantitative","scale":{"domain":[0,10],"nice":false},"axis":{"values":[0,2,4,6,8,10],"labelOverlap":false,"title":"Cells in the G2/M phase (%)"}},"color":{"field":"g","type":"nominal","legend":null},"strokeDash":{"field":"g","type":"nominal","scale":{"domain":["PBS","DEX"],"range":[[5,3],[1,0]]},"legend":null}}},
  {"data":{"name":"I"},"mark":{"type":"point","filled":false,"size":36,"strokeWidth":1.5,"opacity":1},"encoding":{"y":{"field":"y","type":"quantitative","scale":{"domain":[0,10],"nice":false},"axis":{"values":[0,2,4,6,8,10],"labelOverlap":false,"title":"Cells in the G2/M phase (%)"}},"color":{"field":"g","type":"nominal","legend":null},"fill":{"field":"g","type":"nominal","scale":{"domain":["PBS","DEX"],"range":["#ffffff","#000000"]},"legend":null}}},
  {"data":{"name":"I"},"transform":[{"filter":"datum.g=='DEX' && datum.t==8"}],"mark":{"type":"text","text":"G2/M phase","fontWeight":"bold","fontStyle":"italic","fontSize":12,"align":"right","baseline":"middle","color":"#000"},"encoding":{"x":{"datum":28.3},"y":{"datum":9.8,"type":"quantitative","scale":{"domain":[0,10],"nice":false},"axis":{"values":[0,2,4,6,8,10],"labelOverlap":false,"title":"Cells in the G2/M phase (%)"}}}}
 ]
},
{
 "title": {"text": "J"}, "width": 198, "height": 125,
 "encoding": {"x": {"field":"t","type":"quantitative","scale":{"domain":[5.8,27.8],"nice":false,"zero":false},"axis":{"values":[8,14,20,26],"labelExpr":"datum.value==26?'2':datum.label","title":"Circadian Time (h)"}}},
 "layer": [
  {"data":{"name":"J"},"mark":{"type":"rule","strokeWidth":1.6},"encoding":{"y":{"field":"lo","type":"quantitative","scale":{"domain":[30,50],"nice":false,"zero":false},"axis":{"values":[30,35,40,45,50],"labelOverlap":false,"titlePadding":4,"title":"Cells in the S phase (%)"}},"y2":{"field":"hi"},"color":{"field":"g","type":"nominal","scale":{"domain":["PBS","DEX"],"range":["#999999","#000000"]},"legend":null}}},
  {"data":{"name":"J"},"mark":{"type":"tick","orient":"horizontal","size":7,"thickness":1.6},"encoding":{"y":{"field":"lo","type":"quantitative","scale":{"domain":[30,50],"nice":false,"zero":false},"axis":{"values":[30,35,40,45,50],"labelOverlap":false,"titlePadding":4,"title":"Cells in the S phase (%)"}},"color":{"field":"g","type":"nominal","legend":null}}},
  {"data":{"name":"J"},"mark":{"type":"tick","orient":"horizontal","size":7,"thickness":1.6},"encoding":{"y":{"field":"hi","type":"quantitative","scale":{"domain":[30,50],"nice":false,"zero":false},"axis":{"values":[30,35,40,45,50],"labelOverlap":false,"titlePadding":4,"title":"Cells in the S phase (%)"}},"color":{"field":"g","type":"nominal","legend":null}}},
  {"data":{"name":"J"},"transform":[{"filter":"datum.g=='PBS'"}],"mark":{"type":"line","strokeWidth":2,"strokeDash":[5,3]},"encoding":{"y":{"field":"y","type":"quantitative","scale":{"domain":[30,50],"nice":false,"zero":false},"axis":{"values":[30,35,40,45,50],"labelOverlap":false,"titlePadding":4,"title":"Cells in the S phase (%)"}},"color":{"field":"g","type":"nominal","legend":null}}},
  {"data":{"name":"Jc"},"mark":{"type":"line","interpolate":"natural","strokeWidth":2,"color":"#000"},"encoding":{"y":{"field":"y","type":"quantitative","scale":{"domain":[30,50],"nice":false,"zero":false},"axis":{"values":[30,35,40,45,50],"labelOverlap":false,"titlePadding":4,"title":"Cells in the S phase (%)"}}}},
  {"data":{"name":"J"},"mark":{"type":"point","filled":false,"size":36,"strokeWidth":1.5,"opacity":1},"encoding":{"y":{"field":"y","type":"quantitative","scale":{"domain":[30,50],"nice":false,"zero":false},"axis":{"values":[30,35,40,45,50],"labelOverlap":false,"titlePadding":4,"title":"Cells in the S phase (%)"}},"color":{"field":"g","type":"nominal","legend":null},"fill":{"field":"g","type":"nominal","scale":{"domain":["PBS","DEX"],"range":["#ffffff","#000000"]},"legend":null}}},
  {"data":{"name":"J"},"transform":[{"filter":"datum.g=='DEX' && datum.t==8"}],"mark":{"type":"text","text":"S phase","fontWeight":"bold","fontStyle":"italic","fontSize":12,"align":"left","baseline":"middle","color":"#000"},"encoding":{"x":{"datum":6.3},"y":{"datum":49.6,"type":"quantitative","scale":{"domain":[30,50],"nice":false,"zero":false},"axis":{"values":[30,35,40,45,50],"labelOverlap":false,"titlePadding":4,"title":"Cells in the S phase (%)"}}}},
  {"data":{"name":"J"},"transform":[{"filter":"datum.g=='DEX' && datum.t==8"}],"mark":{"type":"text","text":"**","fontWeight":"bold","fontSize":11,"align":"center","baseline":"middle","color":"#000"},"encoding":{"x":{"datum":14},"y":{"datum":41.0,"type":"quantitative","scale":{"domain":[30,50],"nice":false,"zero":false},"axis":{"values":[30,35,40,45,50],"labelOverlap":false,"titlePadding":4,"title":"Cells in the S phase (%)"}}}}
 ]
},
{
 "title": {"text": "K"}, "width": 210, "height": 133,
 "encoding": {"x": {"field":"t","type":"quantitative","scale":{"domain":[5.8,27.8],"nice":false,"zero":false},"axis":{"values":[8,14,20,26],"labelExpr":"datum.value==26?'2':datum.label","title":"Circadian Time (h)"}}},
 "layer": [
  {"data":{"name":"K"},"mark":{"type":"rule","strokeWidth":1.6},"encoding":{"y":{"field":"lo","type":"quantitative","scale":{"domain":[0,15],"nice":false},"axis":{"values":[0,5,10,15],"labelOverlap":false,"title":["pHH3 Mitotic Index","(% of alive cells)"]}},"y2":{"field":"hi"},"color":{"field":"g","type":"nominal","scale":{"domain":["PBS","DEX"],"range":["#999999","#000000"]},"legend":null}}},
  {"data":{"name":"K"},"mark":{"type":"tick","orient":"horizontal","size":7,"thickness":1.6},"encoding":{"y":{"field":"lo","type":"quantitative","scale":{"domain":[0,15],"nice":false},"axis":{"values":[0,5,10,15],"labelOverlap":false,"title":["pHH3 Mitotic Index","(% of alive cells)"]}},"color":{"field":"g","type":"nominal","legend":null}}},
  {"data":{"name":"K"},"mark":{"type":"tick","orient":"horizontal","size":7,"thickness":1.6},"encoding":{"y":{"field":"hi","type":"quantitative","scale":{"domain":[0,15],"nice":false},"axis":{"values":[0,5,10,15],"labelOverlap":false,"title":["pHH3 Mitotic Index","(% of alive cells)"]}},"color":{"field":"g","type":"nominal","legend":null}}},
  {"data":{"name":"K"},"transform":[{"filter":"datum.g=='PBS'"}],"mark":{"type":"line","strokeWidth":2,"strokeDash":[5,3]},"encoding":{"y":{"field":"y","type":"quantitative","scale":{"domain":[0,15],"nice":false},"axis":{"values":[0,5,10,15],"labelOverlap":false,"title":["pHH3 Mitotic Index","(% of alive cells)"]}},"color":{"field":"g","type":"nominal","legend":null}}},
  {"data":{"name":"Kc"},"mark":{"type":"line","interpolate":"natural","strokeWidth":2,"color":"#000"},"encoding":{"y":{"field":"y","type":"quantitative","scale":{"domain":[0,15],"nice":false},"axis":{"values":[0,5,10,15],"labelOverlap":false,"title":["pHH3 Mitotic Index","(% of alive cells)"]}}}},
  {"data":{"name":"K"},"mark":{"type":"point","filled":false,"size":36,"strokeWidth":1.5,"opacity":1},"encoding":{"y":{"field":"y","type":"quantitative","scale":{"domain":[0,15],"nice":false},"axis":{"values":[0,5,10,15],"labelOverlap":false,"title":["pHH3 Mitotic Index","(% of alive cells)"]}},"color":{"field":"g","type":"nominal","legend":null},"fill":{"field":"g","type":"nominal","scale":{"domain":["PBS","DEX"],"range":["#ffffff","#000000"]},"legend":null}}},
  {"data":{"name":"K"},"transform":[{"filter":"datum.g=='DEX' && datum.t==8"}],"mark":{"type":"text","text":"Mitotic Index","fontWeight":"bold","fontStyle":"italic","fontSize":12,"align":"left","baseline":"middle","color":"#000"},"encoding":{"x":{"datum":7.0},"y":{"datum":14.5,"type":"quantitative","scale":{"domain":[0,15],"nice":false},"axis":{"values":[0,5,10,15],"labelOverlap":false,"title":["pHH3 Mitotic Index","(% of alive cells)"]}}}},
  {"data":{"name":"K"},"transform":[{"filter":"datum.g=='DEX' && datum.t==8"}],"mark":{"type":"text","text":"**","fontWeight":"bold","fontSize":11,"align":"center","baseline":"middle","color":"#000"},"encoding":{"x":{"datum":26},"y":{"datum":13.8,"type":"quantitative","scale":{"domain":[0,15],"nice":false},"axis":{"values":[0,5,10,15],"labelOverlap":false,"title":["pHH3 Mitotic Index","(% of alive cells)"]}}}}
 ]
},
{
 "title": {"text": "L"}, "width": 197, "height": 133,
 "encoding": {"x": {"field":"t","type":"quantitative","scale":{"domain":[5.8,27.8],"nice":false,"zero":false},"axis":{"values":[8,14,20,26],"labelExpr":"datum.value==26?'2':datum.label","title":"Circadian Time (h)"}}},
 "layer": [
  {"data":{"name":"L"},"mark":{"type":"rule","strokeWidth":1.6},"encoding":{"y":{"field":"lo","type":"quantitative","scale":{"domain":[0,30],"nice":false},"axis":{"values":[0,10,20,30],"labelOverlap":false,"title":"Annexin V positive cells (%)"}},"y2":{"field":"hi"},"color":{"field":"g","type":"nominal","scale":{"domain":["PBS","DEX"],"range":["#999999","#000000"]},"legend":null}}},
  {"data":{"name":"L"},"mark":{"type":"tick","orient":"horizontal","size":7,"thickness":1.6},"encoding":{"y":{"field":"lo","type":"quantitative","scale":{"domain":[0,30],"nice":false},"axis":{"values":[0,10,20,30],"labelOverlap":false,"title":"Annexin V positive cells (%)"}},"color":{"field":"g","type":"nominal","legend":null}}},
  {"data":{"name":"L"},"mark":{"type":"tick","orient":"horizontal","size":7,"thickness":1.6},"encoding":{"y":{"field":"hi","type":"quantitative","scale":{"domain":[0,30],"nice":false},"axis":{"values":[0,10,20,30],"labelOverlap":false,"title":"Annexin V positive cells (%)"}},"color":{"field":"g","type":"nominal","legend":null}}},
  {"data":{"name":"L"},"transform":[{"filter":"datum.g=='PBS'"}],"mark":{"type":"line","strokeWidth":2,"strokeDash":[5,3]},"encoding":{"y":{"field":"y","type":"quantitative","scale":{"domain":[0,30],"nice":false},"axis":{"values":[0,10,20,30],"labelOverlap":false,"title":"Annexin V positive cells (%)"}},"color":{"field":"g","type":"nominal","legend":null}}},
  {"data":{"name":"Lc"},"mark":{"type":"line","interpolate":"natural","strokeWidth":2,"color":"#000"},"encoding":{"y":{"field":"y","type":"quantitative","scale":{"domain":[0,30],"nice":false},"axis":{"values":[0,10,20,30],"labelOverlap":false,"title":"Annexin V positive cells (%)"}}}},
  {"data":{"name":"L"},"mark":{"type":"point","filled":false,"size":36,"strokeWidth":1.5,"opacity":1},"encoding":{"y":{"field":"y","type":"quantitative","scale":{"domain":[0,30],"nice":false},"axis":{"values":[0,10,20,30],"labelOverlap":false,"title":"Annexin V positive cells (%)"}},"color":{"field":"g","type":"nominal","legend":null},"fill":{"field":"g","type":"nominal","scale":{"domain":["PBS","DEX"],"range":["#ffffff","#000000"]},"legend":null}}},
  {"data":{"name":"L"},"transform":[{"filter":"datum.g=='DEX' && datum.t==8"}],"mark":{"type":"text","text":"Apoptosis","fontWeight":"bold","fontStyle":"italic","fontSize":12,"align":"right","baseline":"middle","color":"#000"},"encoding":{"x":{"datum":27.9},"y":{"datum":29.0,"type":"quantitative","scale":{"domain":[0,30],"nice":false},"axis":{"values":[0,10,20,30],"labelOverlap":false,"title":"Annexin V positive cells (%)"}}}}
 ]
}
]
},
{
"bounds": "flush",
"spacing": 103,
"resolve": {"scale": {"color": "independent", "fill": "independent", "strokeDash": "independent"}},
"hconcat": [
{
 "title": {"text": "M"}, "width": 270, "height": 195,
 "encoding": {"x": {"field":"t","type":"quantitative","scale":{"domain":[-2.05,11.7],"nice":false,"zero":false},"axis":{"values":[-2,-1,0,1,2,3,4,5,6,7,8,9,10,11],"labelFontWeight":"normal","labelFontSize":12,"titlePadding":3,"title":"Time after first DEX treatment (days)"}}},
 "layer": [
  {"data":{"name":"M"},"mark":{"type":"rule","strokeWidth":2.5},"encoding":{"y":{"field":"lo","type":"quantitative","scale":{"domain":[0,10.7],"nice":false},"axis":{"values":[0,2,4,6,8,10],"labelOverlap":false,"labelFontWeight":"normal","labelFontSize":12,"tickSize":3,"titlePadding":3,"title":"Tumor volume (mL)"}},"y2":{"field":"hi"},"color":{"field":"g","type":"nominal","scale":{"domain":["PBS","DEX"],"range":["#6f8b8b","#000000"]}}}},
  {"data":{"name":"M"},"mark":{"type":"tick","orient":"horizontal","size":12,"thickness":2.5},"encoding":{"y":{"field":"lo","type":"quantitative","scale":{"domain":[0,10.7],"nice":false},"axis":{"values":[0,2,4,6,8,10],"labelOverlap":false,"labelFontWeight":"normal","labelFontSize":12,"tickSize":3,"titlePadding":3,"title":"Tumor volume (mL)"}},"color":{"field":"g","type":"nominal"}}},
  {"data":{"name":"M"},"mark":{"type":"tick","orient":"horizontal","size":12,"thickness":2.5},"encoding":{"y":{"field":"hi","type":"quantitative","scale":{"domain":[0,10.7],"nice":false},"axis":{"values":[0,2,4,6,8,10],"labelOverlap":false,"labelFontWeight":"normal","labelFontSize":12,"tickSize":3,"titlePadding":3,"title":"Tumor volume (mL)"}},"color":{"field":"g","type":"nominal"}}},
  {"data":{"name":"M"},"mark":{"type":"line","strokeWidth":3.5},"encoding":{"y":{"field":"y","type":"quantitative","scale":{"domain":[0,10.7],"nice":false},"axis":{"values":[0,2,4,6,8,10],"labelOverlap":false,"labelFontWeight":"normal","labelFontSize":12,"tickSize":3,"titlePadding":3,"title":"Tumor volume (mL)"}},"color":{"field":"g","type":"nominal"},"strokeDash":{"field":"g","type":"nominal","scale":{"domain":["PBS","DEX"],"range":[[10,4],[1,0]]},"legend":null}}},
  {"data":{"name":"M"},"mark":{"type":"point","filled":false,"size":70,"strokeWidth":2.5,"opacity":1},"encoding":{"y":{"field":"y","type":"quantitative","scale":{"domain":[0,10.7],"nice":false},"axis":{"values":[0,2,4,6,8,10],"labelOverlap":false,"labelFontWeight":"normal","labelFontSize":12,"tickSize":3,"titlePadding":3,"title":"Tumor volume (mL)"}},
    "color":{"field":"g","type":"nominal","legend":{"orient":"none","legendX":12,"legendY":100,"title":null,"labelFontSize":14,"labelFontWeight":"bold","symbolType":"M-1,0H-0.35M0.35,0H1M0.35,0A0.35,0.35,0,1,1,-0.35,0A0.35,0.35,0,1,1,0.35,0","symbolSize":550,"symbolStrokeWidth":3,"rowPadding":3,"labelOffset":5,"encode":{"labels":{"update":{"fill":{"signal":"datum.value==='PBS'?'#6f8b8b':'#000000'"}}}}}},
    "fill":{"field":"g","type":"nominal","scale":{"domain":["PBS","DEX"],"range":["#ffffff","#000000"]},"legend":{"orient":"none","legendX":12,"legendY":100,"title":null,"labelFontSize":14,"labelFontWeight":"bold","symbolType":"M-1,0H-0.35M0.35,0H1M0.35,0A0.35,0.35,0,1,1,-0.35,0A0.35,0.35,0,1,1,0.35,0","symbolSize":550,"symbolStrokeWidth":3,"rowPadding":3,"labelOffset":5,"encode":{"labels":{"update":{"fill":{"signal":"datum.value==='PBS'?'#6f8b8b':'#000000'"}}}}}}}},
  {"data":{"name":"M"},"transform":[{"filter":"datum.g=='DEX' && datum.t==0"}],"mark":{"type":"text","text":"C57BL/6J mice","fontWeight":"bold","fontSize":14,"align":"center","baseline":"middle","color":"#000"},"encoding":{"x":{"datum":4.4},"y":{"datum":11.3,"type":"quantitative","scale":{"domain":[0,10.7],"nice":false},"axis":{"values":[0,2,4,6,8,10],"labelOverlap":false,"labelFontWeight":"normal","labelFontSize":12,"tickSize":3,"titlePadding":3,"title":"Tumor volume (mL)"}}}},
  {"data":{"name":"M"},"transform":[{"filter":"datum.g=='DEX' && datum.t==0"}],"mark":{"type":"text","text":"***","fontWeight":"bold","fontSize":12,"align":"center","baseline":"middle","color":"#000"},"encoding":{"x":{"datum":6},"y":{"datum":0.9,"type":"quantitative","scale":{"domain":[0,10.7],"nice":false},"axis":{"values":[0,2,4,6,8,10],"labelOverlap":false,"labelFontWeight":"normal","labelFontSize":12,"tickSize":3,"titlePadding":3,"title":"Tumor volume (mL)"}}}},
  {"data":{"name":"M"},"transform":[{"filter":"datum.g=='DEX' && datum.t==0"}],"mark":{"type":"text","text":"***","fontWeight":"bold","fontSize":12,"align":"center","baseline":"middle","color":"#000"},"encoding":{"x":{"datum":7},"y":{"datum":1.9,"type":"quantitative","scale":{"domain":[0,10.7],"nice":false},"axis":{"values":[0,2,4,6,8,10],"labelOverlap":false,"labelFontWeight":"normal","labelFontSize":12,"tickSize":3,"titlePadding":3,"title":"Tumor volume (mL)"}}}},
  {"data":{"name":"M"},"transform":[{"filter":"datum.g=='DEX' && datum.t==0"}],"mark":{"type":"text","text":"***","fontWeight":"bold","fontSize":12,"align":"center","baseline":"middle","color":"#000"},"encoding":{"x":{"datum":8},"y":{"datum":2.2,"type":"quantitative","scale":{"domain":[0,10.7],"nice":false},"axis":{"values":[0,2,4,6,8,10],"labelOverlap":false,"labelFontWeight":"normal","labelFontSize":12,"tickSize":3,"titlePadding":3,"title":"Tumor volume (mL)"}}}}
 ]
},
{
 "title": {"text": "N"}, "width": 332, "height": 195,
 "encoding": {"x": {"field":"t","type":"quantitative","scale":{"domain":[-1,7.4],"nice":false,"zero":false},"axis":{"values":[-1,0,1,2,3,4,5,6,7],"labelFontWeight":"normal","labelFontSize":12,"titlePadding":3,"title":"Time after first DEX treatment (days)"}}},
 "layer": [
  {"data":{"name":"N"},"mark":{"type":"rule","strokeWidth":2.5},"encoding":{"y":{"field":"lo","type":"quantitative","scale":{"domain":[0,4.31],"nice":false},"axis":{"values":[0,1,2,3,4],"labelOverlap":false,"labelFontWeight":"normal","labelFontSize":12,"tickSize":3,"title":"Tumor volume (mL)"}},"y2":{"field":"hi"},"color":{"field":"g","type":"nominal","scale":{"domain":["PBS","DEX"],"range":["#4b6464","#000000"]},"legend":null}}},
  {"data":{"name":"N"},"mark":{"type":"tick","orient":"horizontal","size":12,"thickness":2.5},"encoding":{"y":{"field":"lo","type":"quantitative","scale":{"domain":[0,4.31],"nice":false},"axis":{"values":[0,1,2,3,4],"labelOverlap":false,"labelFontWeight":"normal","labelFontSize":12,"tickSize":3,"title":"Tumor volume (mL)"}},"color":{"field":"g","type":"nominal","legend":null}}},
  {"data":{"name":"N"},"mark":{"type":"tick","orient":"horizontal","size":12,"thickness":2.5},"encoding":{"y":{"field":"hi","type":"quantitative","scale":{"domain":[0,4.31],"nice":false},"axis":{"values":[0,1,2,3,4],"labelOverlap":false,"labelFontWeight":"normal","labelFontSize":12,"tickSize":3,"title":"Tumor volume (mL)"}},"color":{"field":"g","type":"nominal","legend":null}}},
  {"data":{"name":"N"},"mark":{"type":"line","strokeWidth":3,"interpolate":"monotone"},"encoding":{"y":{"field":"y","type":"quantitative","scale":{"domain":[0,4.31],"nice":false},"axis":{"values":[0,1,2,3,4],"labelOverlap":false,"labelFontWeight":"normal","labelFontSize":12,"tickSize":3,"title":"Tumor volume (mL)"}},"color":{"field":"g","type":"nominal","legend":null},"strokeDash":{"field":"g","type":"nominal","scale":{"domain":["PBS","DEX"],"range":[[10,5],[1,0]]},"legend":null}}},
  {"data":{"name":"N"},"mark":{"type":"point","filled":false,"size":70,"strokeWidth":2.5,"opacity":1},"encoding":{"y":{"field":"y","type":"quantitative","scale":{"domain":[0,4.31],"nice":false},"axis":{"values":[0,1,2,3,4],"labelOverlap":false,"labelFontWeight":"normal","labelFontSize":12,"tickSize":3,"title":"Tumor volume (mL)"}},"color":{"field":"g","type":"nominal","legend":null},"fill":{"field":"g","type":"nominal","scale":{"domain":["PBS","DEX"],"range":["#ffffff","#000000"]},"legend":null}}},
  {"data":{"name":"N"},"transform":[{"filter":"datum.g=='DEX' && datum.t==0"}],"mark":{"type":"text","text":"NSG mice","fontWeight":"bold","fontSize":14,"align":"center","baseline":"middle","color":"#000"},"encoding":{"x":{"datum":0.3},"y":{"datum":4.56,"type":"quantitative","scale":{"domain":[0,4.31],"nice":false},"axis":{"values":[0,1,2,3,4],"labelOverlap":false,"labelFontWeight":"normal","labelFontSize":12,"tickSize":3,"title":"Tumor volume (mL)"}}}},
  {"data":{"name":"N"},"transform":[{"filter":"datum.g=='DEX' && datum.t==0"}],"mark":{"type":"text","text":"*","fontWeight":"bold","fontSize":12,"align":"center","baseline":"middle","color":"#000"},"encoding":{"x":{"datum":4},"y":{"datum":0.3,"type":"quantitative","scale":{"domain":[0,4.31],"nice":false},"axis":{"values":[0,1,2,3,4],"labelOverlap":false,"labelFontWeight":"normal","labelFontSize":12,"tickSize":3,"title":"Tumor volume (mL)"}}}},
  {"data":{"name":"N"},"transform":[{"filter":"datum.g=='DEX' && datum.t==0"}],"mark":{"type":"text","text":"***","fontWeight":"bold","fontSize":12,"align":"center","baseline":"middle","color":"#000"},"encoding":{"x":{"datum":5},"y":{"datum":0.42,"type":"quantitative","scale":{"domain":[0,4.31],"nice":false},"axis":{"values":[0,1,2,3,4],"labelOverlap":false,"labelFontWeight":"normal","labelFontSize":12,"tickSize":3,"title":"Tumor volume (mL)"}}}},
  {"data":{"name":"N"},"transform":[{"filter":"datum.g=='DEX' && datum.t==0"}],"mark":{"type":"text","text":"***","fontWeight":"bold","fontSize":12,"align":"center","baseline":"middle","color":"#000"},"encoding":{"x":{"datum":6},"y":{"datum":0.42,"type":"quantitative","scale":{"domain":[0,4.31],"nice":false},"axis":{"values":[0,1,2,3,4],"labelOverlap":false,"labelFontWeight":"normal","labelFontSize":12,"tickSize":3,"title":"Tumor volume (mL)"}}}}
 ]
}
]
}
]
}
